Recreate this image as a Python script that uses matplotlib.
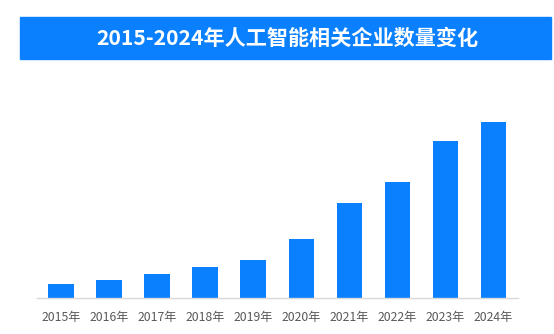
import matplotlib
matplotlib.use('Agg')
import matplotlib.pyplot as plt
from matplotlib.patches import Rectangle

plt.rcParams['font.family'] = ['Noto Sans CJK SC', 'DejaVu Sans']

# 年份和企业数量(按图上柱高估计, 相对值)
years = ['2015年', '2016年', '2017年', '2018年', '2019年',
         '2020年', '2021年', '2022年', '2023年', '2024年']
counts = [14, 18.3, 24, 31, 38.3, 58.6, 94.6, 116.3, 156.6, 176]
title = '2015-2024年人工智能相关企业数量变化'

blue = '#0A80FF'
W, H = 554, 334
fig = plt.figure(figsize=(W/100, H/100), dpi=100)

# 顶部蓝色标题条
fig.patches.append(Rectangle((20/W, 1-59/H), (551-20)/W, 42/H,
                             transform=fig.transFigure, color=blue, zorder=0))
fig.text(287/W, 1-38/H, title, color='white', fontsize=15.2, fontweight='bold',
         ha='center', va='center')

ax = fig.add_axes([37/W, 1-298/H, (517.5-37)/W, 198/H])
x = range(len(years))
ax.bar(x, counts, width=0.53, color=blue)
ax.set_xlim(-0.5, len(years)-0.5)
ax.set_ylim(0, 198)
ax.set_xticks(list(x))
ax.set_xticklabels(years, fontsize=8.8, color='#595959')
ax.tick_params(axis='x', length=0, pad=9)
ax.set_yticks([])
for s in ['top', 'right', 'left']:
    ax.spines[s].set_visible(False)
ax.spines['bottom'].set_color('#D9D9D9')
ax.spines['bottom'].set_linewidth(1)

fig.savefig('out.png', dpi=100)
